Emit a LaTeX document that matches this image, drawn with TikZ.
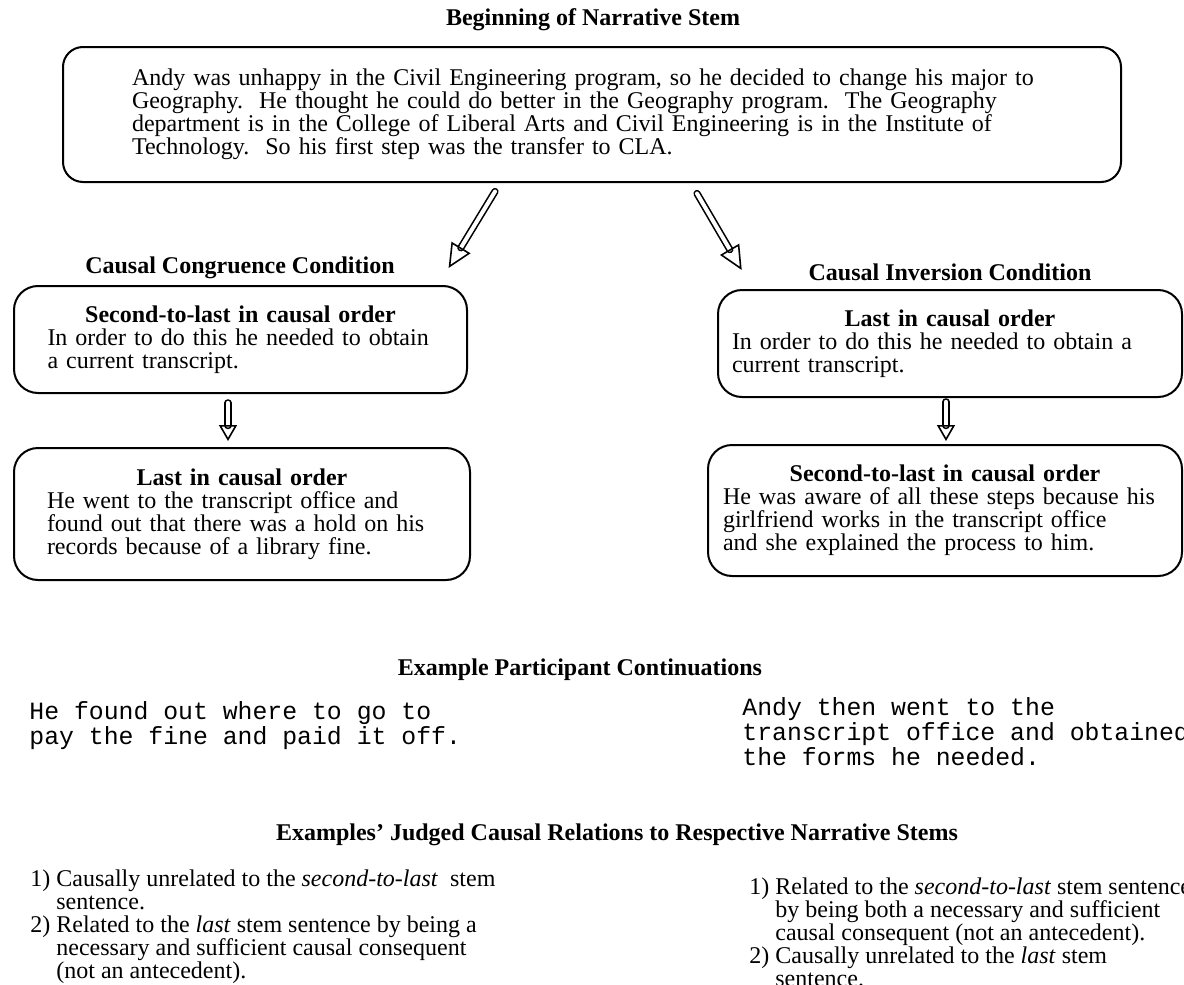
\documentclass[tikz,border=0pt]{standalone}
\usepackage{fontspec}
\setmainfont{Liberation Serif}
\setmonofont{Liberation Mono}
\usetikzlibrary{arrows.meta,positioning}
\newcommand\narfont{\fontsize{12pt}{11.5pt}\selectfont}
\newcommand\narmono{\fontsize{12.4pt}{11.5pt}\selectfont\ttfamily}
\tikzset{
  nar/box/.style={
    draw,
    line width=1pt,
    rounded corners=12pt,
    inner sep=0pt,
    align=left,
    font=\narfont
  },
  nar/title/.style={font=\narfont\bfseries, inner sep=0pt},
  nar/plain/.style={font=\narfont, align=left, inner sep=0pt, anchor=north west},
  nar/mono/.style={font=\narmono, align=left, inner sep=0pt, anchor=north west},
  nar/hollow/.style={double, line width=0.8pt, double distance=2pt, line cap=round,
    -{Triangle[open, length=12pt, width=11pt]}},
  nar/down/.style={double, line width=0.8pt, double distance=2.2pt, line cap=round,
    -{Triangle[open, length=8pt, width=9pt]}}
}
\begin{document}
\begin{tikzpicture}[x=0.5pt,y=-0.5pt]
  \useasboundingbox (0,0) rectangle (1184,985);
  % narrative stem
  \node[nar/title] (begin) at (593,20) {Beginning of Narrative Stem};
  \node[nar/box, rounded corners=10pt, minimum width=529pt, minimum height=67.5pt, text width=460pt] (stem) at (592,114.5)
    {Andy was unhappy in the Civil Engineering program, so he decided to change his major to\\
     Geography.\ \ He thought he could do better in the Geography program.\ \ The Geography\\
     department is in the College of Liberal Arts and Civil Engineering is in the Institute of\\
     Technology.\ \ So his first step was the transfer to CLA.};
  % the two conditions
  \node[nar/title] (lcond) at (240,268) {Causal Congruence Condition};
  \node[nar/title] (rcond) at (950,272) {Causal Inversion Condition};
  \node[nar/box, minimum width=226.5pt, minimum height=53.5pt, text width=193pt] (lsecond) at (240.5,339.5)
    {{\centering\bfseries Second-to-last in causal order\par}
     In order to do this he needed to obtain\\a current transcript.\par\vspace{9pt}};
  \node[nar/box, minimum width=228pt, minimum height=66pt, text width=195pt] (llast) at (242,514)
    {{\centering\bfseries Last in causal order\par}
     He went to the transcript office and\\found out that there was a hold on his\\records because of a library fine.};
  \node[nar/box, minimum width=232pt, minimum height=53.5pt, text width=218pt] (rlast) at (950,343.5)
    {{\centering\bfseries Last in causal order\par}
     In order to do this he needed to obtain a\\current transcript.};
  \node[nar/box, minimum width=237pt, minimum height=65.5pt, text width=222pt] (rsecond) at (945,510.5)
    {{\centering\bfseries Second-to-last in causal order\par}
     He was aware of all these steps because his\\girlfriend works in the transcript office\\and she explained the process to him.};
  \draw[nar/hollow] ([xshift=-48.5pt,yshift=-4.25pt]stem.south) -- ([xshift=26.75pt]lcond.east);
  \draw[nar/hollow] ([xshift=52.5pt,yshift=-5.25pt]stem.south) -- ([xshift=-33.25pt,yshift=1pt]rcond.west);
  \draw[nar/down] ([xshift=-6.25pt,yshift=-4.5pt]lsecond.south) -- ([xshift=-7pt,yshift=3pt]llast.north);
  \draw[nar/down] ([xshift=-2pt,yshift=-2pt]rlast.south) -- ([xshift=0.5pt,yshift=1.5pt]rsecond.north);
  % continuations
  \node[nar/title] (etitle) at (580,670) {Example Participant Continuations};
  \node[nar/mono] (lcont) at (29,701) {He found out where to go to\\pay the fine and paid it off.};
  \node[nar/mono] (rcont) at (742,697) {Andy then went to the\\transcript office and obtained\\the forms he needed.};
  % judged relations
  \node[nar/title] (jtitle) at (617,835) {Examples' Judged Causal Relations to Respective Narrative Stems};
  \node[nar/plain] (llist) at (30,869)
    {1) Causally unrelated to the \textit{second-to-last}\ \ stem\\
     \hphantom{1) }sentence.\\
     2) Related to the \textit{last} stem sentence by being a\\
     \hphantom{2) }necessary and sufficient causal consequent\\
     \hphantom{2) }(not an antecedent).};
  \node[nar/plain] (rlist) at (749,877)
    {1) Related to the \textit{second-to-last} stem sentence\\
     \hphantom{1) }by being both a necessary and sufficient\\
     \hphantom{1) }causal consequent (not an antecedent).\\
     2) Causally unrelated to the \textit{last} stem\\
     \hphantom{2) }sentence.};
\end{tikzpicture}
\end{document}
